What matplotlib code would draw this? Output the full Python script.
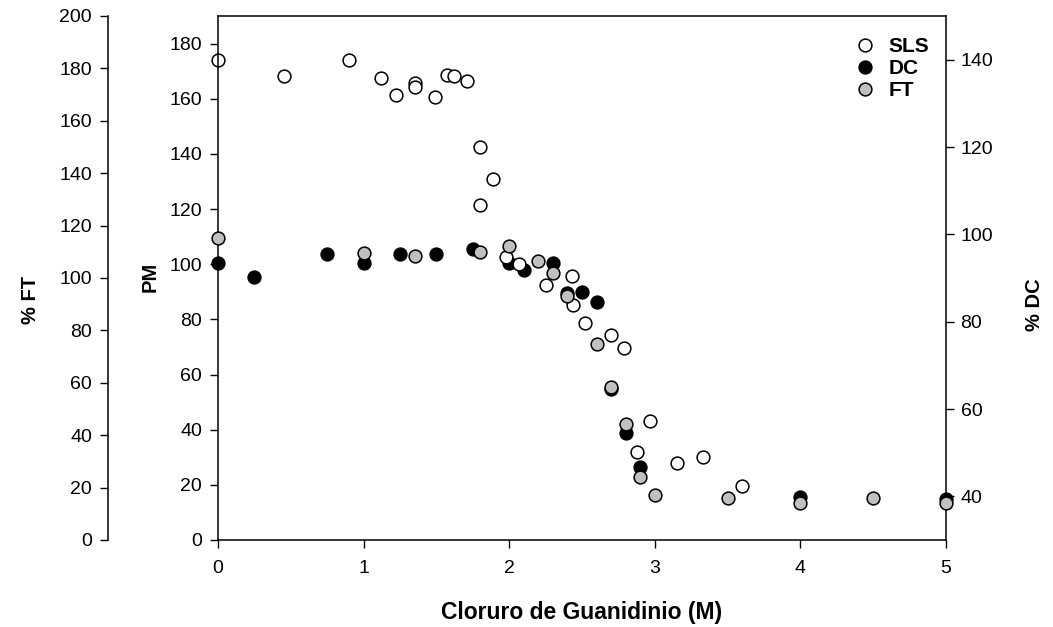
import matplotlib
matplotlib.use("Agg")
import matplotlib.pyplot as plt
from matplotlib.lines import Line2D

plt.rcParams['font.family'] = ['Liberation Sans', 'DejaVu Sans']

# ---- data ----
sls_x = [0, 0.45, 0.90, 1.12, 1.22, 1.35, 1.35, 1.49, 1.57, 1.62, 1.71, 1.80, 1.89, 1.80,
         1.98, 2.07, 2.25, 2.43, 2.44, 2.52, 2.70, 2.79, 2.97, 2.88, 3.15, 3.33, 3.60]
sls_pm = [174.2, 168.4, 174.2, 167.4, 161.5, 165.7, 164.1, 160.5, 168.7, 168.4, 166.5, 142.4, 131.0, 121.6,
          102.6, 100.0, 92.5, 95.8, 85.3, 78.6, 74.4, 69.6, 43.3, 31.8, 27.8, 30.2, 19.6]

dc_x = [0, 0.25, 0.75, 1.0, 1.25, 1.5, 1.75, 2.0, 2.1, 2.3, 2.4, 2.5, 2.6, 2.7, 2.8, 2.9, 4.0, 5.0]
dc_y = [93.4, 90.3, 95.4, 93.4, 95.4, 95.4, 96.6, 93.4, 91.8, 93.4, 86.5, 86.9, 84.4, 64.6, 54.4, 46.8, 39.9, 39.3]

ft_x = [0, 1.0, 1.35, 1.8, 2.0, 2.2, 2.3, 2.4, 2.6, 2.7, 2.8, 2.9, 3.0, 3.5, 4.0, 4.5, 5.0]
ft_y = [115.2, 109.7, 108.4, 110.0, 112.2, 106.5, 102.0, 93.1, 74.8, 58.5, 44.2, 24.2, 17.2, 15.9, 14.3, 15.9, 14.1]

x_ticks = [0, 1, 2, 3, 4, 5]
pm_ticks = list(range(0, 181, 20))
dc_ticks = list(range(40, 141, 20))
ft_ticks = list(range(0, 201, 20))

W, H = 1053, 627
fig = plt.figure(figsize=(W / 100, H / 100), dpi=100)
ax = fig.add_axes([218 / W, 1 - 540 / H, 728 / W, 524 / H])
ax_dc = ax.twinx()
ax_ft = ax.twinx()

FS = 14
VFS = 14.5
XFS = 16.5
tick_kw = dict(direction='out', length=5.5, width=1, labelsize=FS, colors='black')
mk = dict(linestyle='none', marker='o', markersize=9.2, markeredgewidth=1.1,
          markeredgecolor='black', clip_on=False)

# PM / x axis
ax.set_xlim(0, 5)
ax.set_ylim(0, 190)
ax.set_xticks(x_ticks)
ax.set_yticks(pm_ticks)
ax.tick_params(axis='x', pad=9, **tick_kw)
ax.tick_params(axis='y', pad=6, **tick_kw)
for s in ['left', 'bottom', 'top']:
    ax.spines[s].set_linewidth(1.1)
ax.spines['right'].set_visible(False)

# DC axis
ax_dc.set_ylim(30, 150)
ax_dc.set_yticks(dc_ticks)
ax_dc.tick_params(axis='y', pad=5, **tick_kw)
for s in ['left', 'bottom', 'top']:
    ax_dc.spines[s].set_visible(False)
ax_dc.spines['right'].set_linewidth(1.1)

# FT axis (offset left)
ax_ft.set_ylim(0, 200)
ax_ft.set_yticks(ft_ticks)
ax_ft.yaxis.set_ticks_position('left')
ax_ft.yaxis.set_label_position('left')
ax_ft.spines['left'].set_position(('axes', -110 / 728))
ax_ft.spines['left'].set_visible(True)
ax_ft.spines['left'].set_linewidth(1.1)
for s in ['right', 'bottom', 'top']:
    ax_ft.spines[s].set_visible(False)
ax_ft.tick_params(axis='y', pad=6, **tick_kw)

# z-order of layers
ax_dc.set_zorder(1)
ax.set_zorder(2)
ax_ft.set_zorder(3)
for a in (ax, ax_dc, ax_ft):
    a.patch.set_visible(False)

ax_dc.plot(dc_x, dc_y, markerfacecolor='black', **mk)
ax.plot(sls_x, sls_pm, markerfacecolor='white', **mk)
ax_ft.plot(ft_x, ft_y, markerfacecolor='#c0c0c0', **mk)

# axis labels
fig.text(30 / W, 1 - 300 / H, '% FT', rotation=90, ha='center', va='center',
         fontsize=VFS, fontweight='bold')
fig.text(150 / W, 1 - 277 / H, 'PM', rotation=90, ha='center', va='center',
         fontsize=VFS, fontweight='bold')
fig.text(1034 / W, 1 - 305 / H, '% DC', rotation=90, ha='center', va='center',
         fontsize=VFS, fontweight='bold')
fig.text(582 / W, 1 - 612 / H, 'Cloruro de Guanidinio (M)', ha='center', va='center',
         fontsize=XFS, fontweight='bold')

# legend
handles = [Line2D([], [], markerfacecolor=c, **mk) for c in ['white', 'black', '#c0c0c0']]
leg = ax_ft.legend(handles, ['SLS', 'DC', 'FT'], loc='upper left',
                   bbox_to_anchor=(855 / W, 1 - 37 / H), bbox_transform=fig.transFigure,
                   frameon=False, handlelength=1.0, handletextpad=0.6, labelspacing=0.15,
                   borderpad=0, borderaxespad=0, prop={'weight': 'bold', 'size': 15})

fig.savefig('out.png', dpi=100)
